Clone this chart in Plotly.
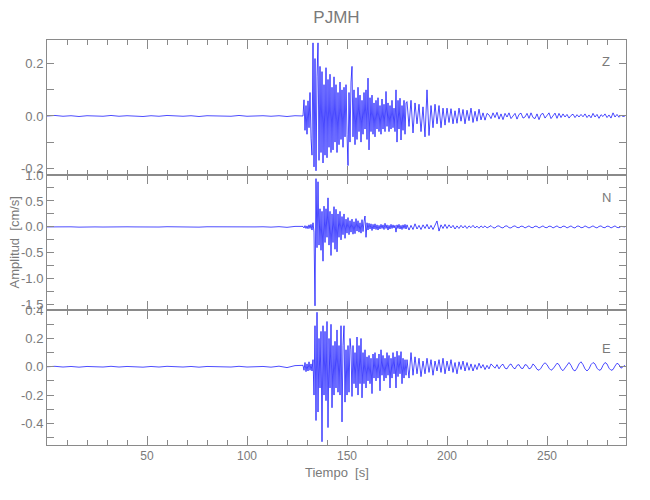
import numpy as np
import plotly.graph_objects as go
from plotly.subplots import make_subplots

# ---------------- data (velocity, cm/s) ----------------
station = "PJMH"
components = ["Z", "N", "E"]

# segment starts / sample spacing (s)
pre_start, pre_step = 0.0, 4.0
burst_start, burst_step = 128.0, 0.5
coda_start, coda_step = 180.0, 1.0

Z_pre = [0.000, 0.002, -0.001, 0.001, -0.002, 0.001, 0.000, -0.001,
         0.002, -0.001, 0.001, 0.000, -0.002, 0.001, -0.001, 0.002,
         0.000, -0.001, 0.001, -0.002, 0.001, 0.000, 0.001, -0.001,
         0.002, -0.001, 0.000, 0.001, -0.001, 0.001, -0.002, 0.001]
Z_burst = [0.000, 0.062, -0.055, 0.040, -0.070, 0.058, -0.045, 0.090,
           -0.085, -0.150, 0.280, -0.195, 0.220, -0.210, 0.150, 0.280,
           -0.170, 0.190, -0.140, 0.170, -0.180, 0.120, -0.150, 0.185,
           -0.160, 0.140, -0.120, 0.160, -0.140, 0.110, -0.130, 0.150,
           -0.100, 0.120, -0.140, 0.090, -0.110, 0.130, -0.090, 0.100,
           -0.120, 0.110, -0.080, 0.120, -0.070, -0.190, 0.090, -0.100,
           0.130, 0.190, -0.080, 0.100, -0.110, 0.070, -0.090, 0.110,
           -0.060, 0.080, -0.100, 0.060, -0.070, 0.090, -0.050, 0.100,
           -0.090, 0.145, -0.130, 0.070, -0.060, 0.080, -0.070, 0.050,
           -0.080, 0.060, -0.050, 0.070, -0.060, 0.040, -0.070, 0.065,
           -0.050, 0.045, -0.060, 0.094, -0.040, 0.050, -0.060, 0.040,
           -0.050, 0.060, -0.045, 0.030, -0.060, 0.100, -0.100, 0.060,
           -0.050, 0.068, -0.092, 0.040, -0.055, 0.060, -0.070, 0.050]
Z_coda = [0.055, -0.040, 0.060, -0.065, 0.050, -0.030, 0.045, -0.060, 0.035, -0.080,
          0.100, -0.075, 0.040, -0.045, 0.045, -0.030, 0.040, -0.045, 0.030, -0.035,
          0.030, -0.025, 0.028, -0.030, 0.020, -0.028, 0.030, -0.020, 0.025, -0.030,
          0.022, -0.018, 0.030, -0.025, 0.018, -0.020, 0.026, -0.015, 0.012, -0.016,
          0.010, 0.004, -0.010, 0.012, -0.006, 0.014, -0.012, 0.008, -0.014, 0.010,
          -0.004, 0.012, -0.010, 0.002, 0.010, -0.012, 0.006, 0.011, -0.008, -0.004,
          0.010, -0.009, 0.012, -0.006, -0.010, 0.008, -0.014, 0.006, 0.010, -0.008,
          0.004, 0.012, -0.010, 0.003, 0.011, -0.009, 0.010, -0.006, 0.008, -0.004,
          0.006, -0.008, 0.002, 0.007, -0.006, 0.005, -0.004, 0.006, -0.003, 0.008,
          -0.006, 0.004, -0.007, 0.010, -0.004, 0.006, -0.009, 0.005, -0.002, 0.008,
          -0.006, 0.004, -0.008, 0.012, -0.004, 0.006, -0.005, 0.003, -0.002, 0.000]

N_pre = [0.000, 0.004, -0.003, 0.002, -0.004, 0.003, 0.000, -0.002,
         0.004, -0.003, 0.002, 0.000, -0.004, 0.003, -0.002, 0.004,
         0.000, -0.003, 0.002, -0.004, 0.003, 0.000, 0.002, -0.003,
         0.004, -0.002, 0.000, 0.003, -0.004, 0.005, -0.008, 0.010]
N_burst = [0.010, -0.020, 0.025, -0.030, 0.020, -0.035, 0.040, -0.030,
           0.050, -0.060, 0.080, -0.100, -1.520, 0.930, -0.400, 0.870,
           -0.350, 0.350, -0.450, 0.300, -0.660, 0.400, -0.300, 0.350,
           -0.200, 0.560, -0.350, 0.300, -0.550, 0.250, -0.300, 0.390,
           -0.430, 0.340, -0.480, 0.250, -0.200, 0.300, -0.250, 0.200,
           -0.150, 0.250, -0.220, 0.150, -0.120, 0.180, -0.150, 0.120,
           -0.100, 0.150, -0.140, 0.100, -0.130, 0.160, -0.080, 0.120,
           -0.100, 0.080, -0.120, 0.140, -0.090, 0.100, 0.210, -0.200,
           0.080, -0.060, 0.070, -0.040, 0.060, -0.070, 0.050, -0.040,
           0.060, -0.050, 0.040, -0.060, 0.030, -0.040, 0.050, -0.030,
           0.040, -0.050, 0.070, -0.030, 0.040, -0.060, 0.030, -0.040,
           0.050, -0.030, 0.040, -0.020, 0.030, -0.100, 0.040, -0.030,
           0.050, -0.040, 0.030, -0.050, 0.040, -0.030, 0.050, -0.040]
N_coda = [0.040, -0.060, 0.030, -0.050, 0.060, -0.040, 0.030, -0.050, 0.040, -0.030,
          0.050, -0.040, 0.030, -0.050, 0.040, 0.115, -0.080, 0.040, -0.030, 0.050,
          -0.030, 0.040, -0.020, 0.030, -0.040, 0.020, -0.030, 0.030, -0.020, 0.025,
          -0.030, 0.020, -0.015, 0.030, -0.020, 0.015, -0.025, 0.020, -0.015, 0.020,
          -0.020, 0.010, 0.025, -0.015, -0.020, 0.015, 0.020, -0.010, -0.020, 0.015,
          0.020, -0.015, -0.020, 0.010, 0.020, -0.010, -0.015, 0.015, 0.010, -0.020,
          0.005, 0.020, -0.010, -0.015, 0.015, 0.010, -0.020, 0.005, 0.020, -0.010,
          -0.015, 0.015, 0.010, -0.020, 0.000, 0.020, -0.010, -0.015, 0.015, 0.010,
          -0.020, 0.005, 0.020, -0.010, -0.020, 0.015, 0.015, -0.015, -0.010, 0.020,
          0.005, -0.020, 0.000, 0.020, -0.005, -0.020, 0.010, 0.020, -0.010, -0.015,
          0.015, 0.010, -0.020, 0.005, 0.020, -0.010, -0.015, 0.010, 0.005, 0.000]

E_pre = [0.000, 0.003, -0.002, 0.002, -0.003, 0.002, 0.000, -0.002,
         0.003, -0.002, 0.002, 0.000, -0.003, 0.002, -0.002, 0.003,
         0.000, -0.002, 0.002, -0.003, 0.002, 0.000, 0.002, -0.002,
         0.003, -0.002, 0.000, 0.002, -0.003, 0.004, -0.006, 0.008]
E_burst = [0.010, -0.025, 0.030, -0.035, 0.020, -0.030, 0.035, -0.025,
           0.020, -0.030, 0.050, -0.200, 0.290, -0.380, 0.385, -0.320,
           0.200, -0.150, 0.250, -0.530, 0.290, -0.200, 0.250, -0.240,
           0.320, -0.430, 0.200, -0.150, 0.300, -0.290, 0.150, -0.200,
           0.180, -0.150, 0.260, -0.180, 0.150, -0.200, 0.290, -0.390,
           0.150, 0.290, -0.250, 0.120, -0.200, 0.150, -0.180, 0.200,
           0.120, -0.210, 0.150, -0.120, 0.100, -0.150, 0.210, -0.200,
           0.150, -0.120, 0.200, -0.220, 0.100, -0.120, 0.120, -0.150,
           0.070, -0.100, 0.080, -0.120, 0.060, -0.190, 0.090, -0.080,
           0.100, -0.100, 0.060, -0.080, 0.090, -0.170, 0.120, -0.060,
           0.080, -0.100, 0.060, -0.080, 0.100, -0.060, 0.080, -0.150,
           0.060, -0.080, 0.100, -0.050, 0.070, -0.150, 0.110, -0.070,
           0.080, -0.050, 0.107, -0.120, 0.060, -0.080, 0.050, -0.060]
E_coda = [0.050, -0.080, 0.100, -0.060, 0.070, -0.050, 0.060, -0.070, 0.040, -0.050,
          0.060, -0.040, 0.050, -0.060, 0.040, -0.030, 0.050, -0.040, 0.060, -0.050,
          0.040, -0.030, 0.050, -0.040, 0.030, -0.050, 0.035, -0.020, 0.040, -0.030,
          0.030, -0.025, 0.020, -0.030, 0.015, -0.020, 0.025, -0.010, 0.015, -0.020,
          0.010, -0.015, 0.020, 0.005, -0.010, 0.015, -0.015, 0.008, 0.018, -0.010,
          -0.015, 0.010, 0.020, -0.005, -0.015, 0.010, 0.015, -0.010, -0.012, 0.015,
          0.010, -0.015, -0.008, 0.020, 0.005, -0.018, -0.025, -0.010, 0.015, 0.028,
          0.015, -0.010, -0.025, -0.015, 0.010, 0.025, 0.015, -0.015, -0.028, -0.010,
          0.015, 0.030, 0.010, -0.020, -0.030, -0.010, 0.020, 0.035, 0.015, -0.015,
          -0.030, -0.015, 0.015, 0.030, 0.020, -0.010, -0.025, -0.020, 0.010, 0.030,
          0.020, -0.010, -0.025, -0.020, 0.005, 0.025, 0.015, -0.010, 0.000, 0.010]

# axis ranges / tick labels
x_range = [0.0, 289.5]
x_tickvals = [50, 100, 150, 200, 250]
x_ticktext = ["50", "100", "150", "200", "250"]
y_ranges = {"Z": [-0.226, 0.291], "N": [-1.6, 1.0], "E": [-0.553, 0.401]}
y_tickvals = {"Z": [-0.2, 0.0, 0.2],
              "N": [-1.5, -1.0, -0.5, 0.0, 0.5, 1.0],
              "E": [-0.4, -0.2, 0.0, 0.2, 0.4]}
y_ticktext = {"Z": ["-0.2", "0.0", "0.2"],
              "N": ["-1.5", "-1.0", "-0.5", "0.0", "0.5", "1.0"],
              "E": ["-0.4", "-0.2", "0.0", "0.2", "0.4"]}
y_minor = {"Z": 0.1, "N": 0.25, "E": 0.1}

traces = {"Z": (Z_pre, Z_burst, Z_coda),
          "N": (N_pre, N_burst, N_coda),
          "E": (E_pre, E_burst, E_coda)}


def build(pre, burst, coda):
    t = np.concatenate([pre_start + pre_step * np.arange(len(pre)),
                        burst_start + burst_step * np.arange(len(burst)),
                        coda_start + coda_step * np.arange(len(coda))])
    v = np.concatenate([pre, burst, coda])
    return t, v


# ---------------- figure ----------------
GRAY = "#8a8a8a"
TXT = "#7a7a7a"
FONT = "Liberation Sans Narrow, Liberation Sans, DejaVu Sans"

fig = make_subplots(rows=3, cols=1, shared_xaxes=True, vertical_spacing=0)

for i, c in enumerate(components, start=1):
    t, v = build(*traces[c])
    fig.add_trace(go.Scatter(x=t, y=v, mode="lines",
                             line=dict(color="#0000ff", width=0.7),
                             showlegend=False), row=i, col=1)
    fig.update_yaxes(range=y_ranges[c], tickmode="array",
                     tickvals=y_tickvals[c], ticktext=y_ticktext[c],
                     showline=True, linecolor=GRAY, linewidth=1,
                     mirror="allticks", ticks="inside", ticklen=7,
                     tickcolor=GRAY, showgrid=False, zeroline=False,
                     automargin=False,
                     tickfont=dict(family=FONT, size=13, color=TXT),
                     minor=dict(tickmode="linear", tick0=0, dtick=y_minor[c],
                                ticks="inside", ticklen=7, tickcolor=GRAY),
                     row=i, col=1)
    fig.update_xaxes(range=x_range, tickmode="array",
                     tickvals=x_tickvals, ticktext=x_ticktext,
                     showline=True, linecolor=GRAY, linewidth=1,
                     mirror="allticks", ticks="inside", ticklen=9,
                     tickcolor=GRAY, showgrid=False, zeroline=False,
                     automargin=False,
                     showticklabels=(i == 3),
                     tickfont=dict(family=FONT, size=12, color=TXT),
                     minor=dict(tickmode="linear", tick0=0, dtick=10,
                                ticks="inside", ticklen=5, tickcolor=GRAY),
                     row=i, col=1)

label_y = {"Z": 0.9457, "N": 0.612, "E": 0.2395}
for c in components:
    fig.add_annotation(text=c, xref="paper", yref="paper", x=0.9655,
                       y=label_y[c], xanchor="center", yanchor="middle",
                       showarrow=False,
                       font=dict(family=FONT, size=13, color=TXT))

fig.add_annotation(text="Amplitud  [cm/s]", xref="paper", yref="paper",
                   x=-0.0553, y=0.5, textangle=-90, showarrow=False,
                   xanchor="center", yanchor="middle",
                   font=dict(family=FONT, size=13, color=TXT))
fig.add_annotation(text="Tiempo  [s]", xref="paper", yref="paper",
                   x=0.5, y=-0.069, showarrow=False,
                   xanchor="center", yanchor="middle",
                   font=dict(family=FONT, size=13, color=TXT))

# the page body adds an 8 px offset; margins compensate for it
fig.update_layout(
    width=650, height=500,
    margin=dict(l=39, r=32, t=32, b=63, autoexpand=False),
    paper_bgcolor="white", plot_bgcolor="white",
    title=dict(text=station, x=0.5, xref="paper", y=0.982, yref="container",
               yanchor="middle",
               font=dict(family=FONT, size=17, color=TXT)),
)

fig.write_html("out.html")
